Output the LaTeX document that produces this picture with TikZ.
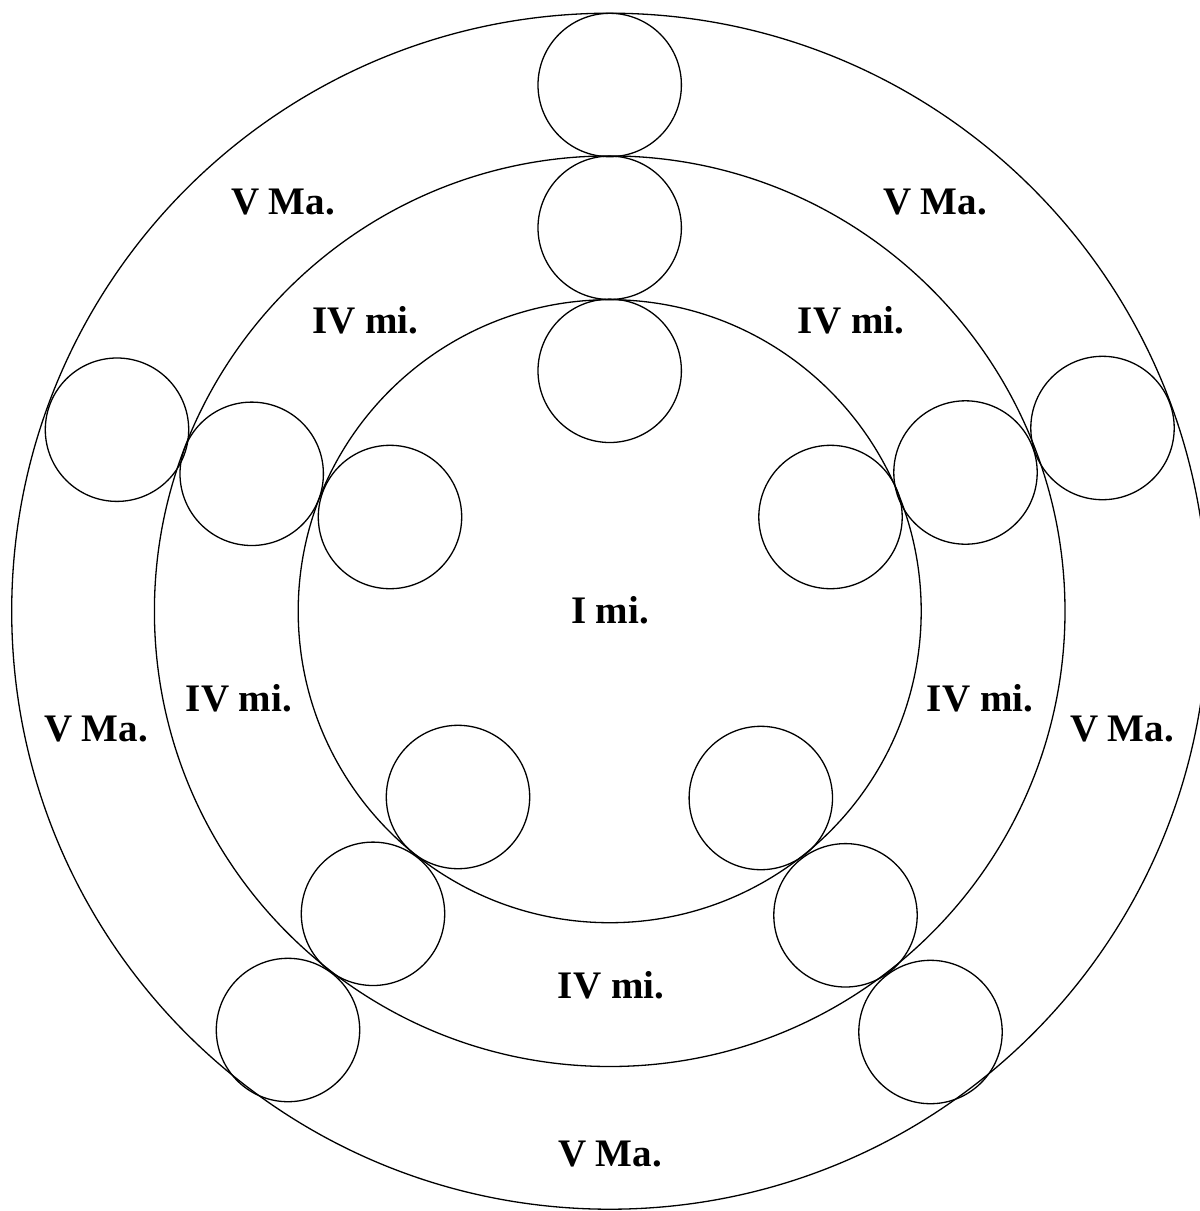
\documentclass[tikz,border=0pt]{standalone}
\usepackage{fontspec}
\setmainfont{Liberation Serif}
\begin{document}
\begin{tikzpicture}[x=0.5pt,y=-0.5pt,
  ring/.style={draw,circle,inner sep=0pt,outer sep=0pt,line width=0.65pt},
  ball/.style={draw,circle,inner sep=0pt,outer sep=0pt,minimum size=71.7pt,line width=0.65pt},
  lab/.style={font=\fontsize{19.5pt}{22pt}\selectfont\bfseries,inner sep=0pt,anchor=base}]
\useasboundingbox (0,0) rectangle (1200,1211);
\begin{scope}
\clip (0,0) rectangle (1200,1211);
% rings
\node[ring,minimum size=311.5pt] (r1) at (609.7,611.2) {};
\node[ring,minimum size=455.3pt] (r2) at (609.7,611.2) {};
\node[ring,minimum size=598pt]   (r3) at (609.7,611.2) {};
% top group
\node[ball] (t3) at (609.7,85) {};
\node[ball] (t2) at (609.7,227.8) {};
\node[ball] (t1) at (609.7,370.8) {};
% upper-left group
\node[ball] (ul3) at (117,429.7) {};
\node[ball] (ul2) at (251.7,473.8) {};
\node[ball] (ul1) at (390,517) {};
% upper-right group
\node[ball] (ur3) at (1102.5,428) {};
\node[ball] (ur2) at (965.5,472.5) {};
\node[ball] (ur1) at (830.5,517) {};
% lower-left group
\node[ball] (ll1) at (458,797) {};
\node[ball] (ll2) at (373,913.8) {};
\node[ball] (ll3) at (288,1030) {};
% lower-right group
\node[ball] (lr1) at (760.8,798) {};
\node[ball] (lr2) at (845.5,915.3) {};
\node[ball] (lr3) at (930.5,1032) {};
\end{scope}
% labels
\node[lab] (lVul) at (283,214) {V Ma.};
\node[lab] (lIVul) at (365.5,333) {IV mi.};
\node[lab] (lVur) at (935,214) {V Ma.};
\node[lab] (lIVur) at (851,333) {IV mi.};
\node[lab] (lI) at (610,623) {I mi.};
\node[lab] (lVl) at (96,741.7) {V Ma.};
\node[lab] (lIVl) at (239,711) {IV mi.};
\node[lab] (lIVr) at (980,711) {IV mi.};
\node[lab] (lVr) at (1122,741.7) {V Ma.};
\node[lab] (lIVb) at (611,998.3) {IV mi.};
\node[lab] (lVb) at (610,1166) {V Ma.};
\end{tikzpicture}
\end{document}
